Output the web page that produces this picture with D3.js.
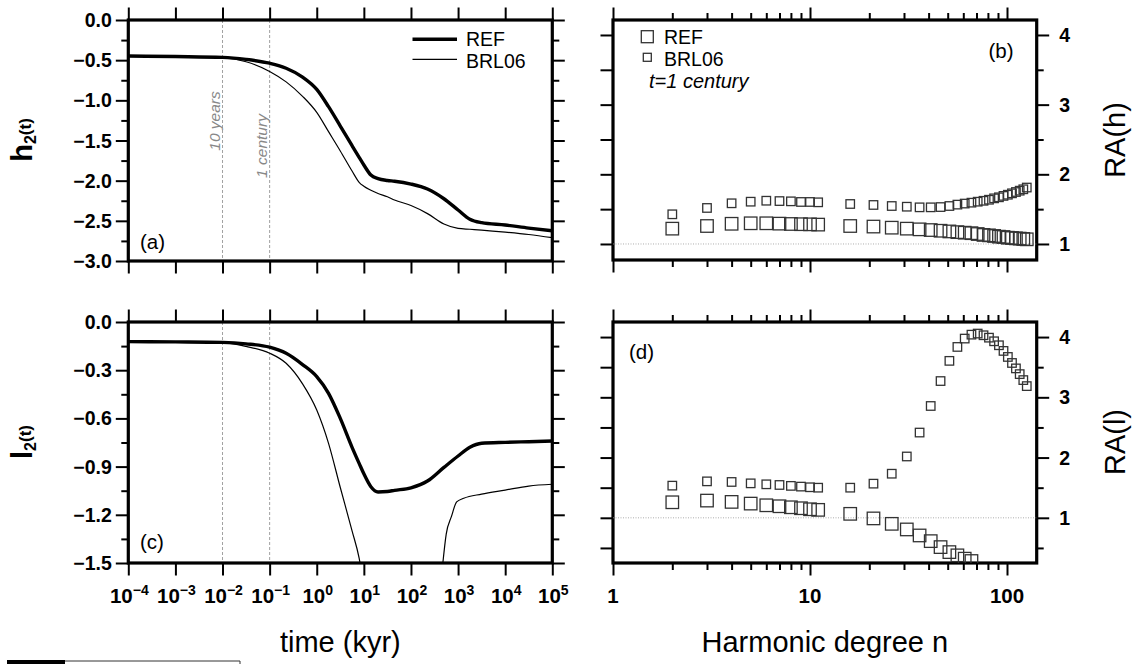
<!DOCTYPE html>
<html>
<head>
<meta charset="utf-8">
<script src="https://cdn.jsdelivr.net/npm/d3@7"></script>
<style>
  body { margin: 0; background: #fff; }
  svg { display: block; font-family: "Liberation Sans", Arial, Helvetica, sans-serif; }
</style>
</head>
<body>
<svg id="chart" width="1135" height="664"></svg>
<script>
// ---- data ----
// time axis (kyr) shared by the REF curves
const timeKyr = [0.0001, 0.001, 0.01, 0.0316, 0.1, 0.224, 0.5, 1, 1.78, 3.16, 5.62, 7.94, 10,
                 14.1, 20, 31.6, 44.7, 100, 224, 501, 1000, 1780, 3160, 10000, 31600, 100000];
const h2Ref = [-0.448, -0.455, -0.465, -0.49, -0.538, -0.60, -0.71, -0.863, -1.079, -1.32, -1.565, -1.71, -1.805,
               -1.93, -1.975, -1.998, -2.007, -2.042, -2.104, -2.225, -2.365, -2.48, -2.523, -2.552, -2.59, -2.623];
const h2Brl = [-0.448, -0.455, -0.47, -0.52, -0.64, -0.77, -0.95, -1.15, -1.39, -1.63, -1.88, -2.02, -2.07,
               -2.12, -2.16, -2.2, -2.24, -2.31, -2.41, -2.54, -2.595, -2.605, -2.615, -2.64, -2.67, -2.71];
const l2Ref = [-0.122, -0.124, -0.127, -0.136, -0.157, -0.195, -0.265, -0.34, -0.444, -0.60, -0.78, -0.88, -0.945,
               -1.025, -1.058, -1.055, -1.048, -1.032, -0.99, -0.905, -0.834, -0.78, -0.755, -0.749, -0.745, -0.741];
// BRL06 l2 leaves the frame (below -1.5) between ~8 kyr and ~475 kyr
const timeBrlL = [0.0001, 0.001, 0.01, 0.0316, 0.1, 0.224, 0.5, 1, 1.78, 3.16, 5.62, 7.94, 8.3,
                  60, 475, 560, 724, 933, 1320, 3160, 10000, 31600, 100000];
const l2Brl = [-0.122, -0.124, -0.128, -0.152, -0.194, -0.257, -0.385, -0.548, -0.755, -1.03, -1.30, -1.47, -1.5,
               null, -1.5, -1.32, -1.21, -1.12, -1.097, -1.071, -1.046, -1.021, -1.01];

// harmonic degrees, t = 1 century
const degrees = [2, 3, 4, 5, 6, 7, 8, 9, 10, 11, 16, 21, 26, 31, 36, 41, 46, 51, 56, 61, 66,
                 71, 76, 81, 86, 91, 96, 101, 106, 111, 116, 121, 126];
const raHRef = [1.22, 1.258, 1.29, 1.297, 1.297, 1.292, 1.287, 1.284, 1.282, 1.278, 1.258, 1.25, 1.234, 1.22, 1.21,
                1.2, 1.19, 1.18, 1.17, 1.162, 1.155, 1.143, 1.13, 1.124, 1.115, 1.105, 1.1, 1.09, 1.086, 1.081,
                1.077, 1.072, 1.067];
const raHBrl = [1.426, 1.517, 1.584, 1.607, 1.621, 1.616, 1.612, 1.603, 1.603, 1.598, 1.574, 1.56, 1.545, 1.535,
                1.526, 1.526, 1.53, 1.545, 1.565, 1.58, 1.593, 1.607, 1.62, 1.635, 1.655, 1.67, 1.69, 1.707,
                1.727, 1.746, 1.765, 1.785, 1.81];
// REF l ratios: only the points still inside the frame
const raLRef = [1.258, 1.286, 1.264, 1.236, 1.208, 1.192, 1.175, 1.159, 1.142, 1.132, 1.066, 0.99, 0.90,
                0.807, 0.707, 0.613, 0.514, 0.431, 0.377, 0.322, 0.283];
const raLBrl = [1.534, 1.605, 1.595, 1.572, 1.556, 1.545, 1.53, 1.518, 1.507, 1.5, 1.5, 1.567, 1.732, 2.018,
                2.415, 2.856, 3.27, 3.605, 3.836, 3.975, 4.04, 4.058, 4.03, 3.99, 3.93, 3.864, 3.77, 3.67,
                3.57, 3.48, 3.385, 3.286, 3.186];

const timeExponents = [-4, -3, -2, -1, 0, 1, 2, 3, 4, 5];
const degreeLabels = [1, 10, 100];

// ---- layout ----
const svg = d3.select("#chart");
const L = { x0: 128.3, x1: 552.3 };
const R = { x0: 613, x1: 1036.7 };
const TOP = { y0: 20, y1: 261 };
const BOT = { y0: 322, y1: 563 };
const bigTick = 12.5, smallTick = 7;

const xTime = d3.scaleLog().domain([1e-4, 1e5]).range([L.x0, L.x1]);
const xDeg = d3.scaleLog().domain([1, 141.5]).range([R.x0, R.x1]);
const yH = d3.scaleLinear().domain([-3, 0]).range([TOP.y1, TOP.y0]);
const yL = d3.scaleLinear().domain([-1.5, 0]).range([BOT.y1, BOT.y0]);
const yRAh = d3.scaleLinear().domain([0.77, 4.215]).range([260, TOP.y0]);
const yRAl = d3.scaleLinear().domain([0.25, 4.25]).range([BOT.y1, BOT.y0]);

const defs = svg.append("defs");
function clip(id, x0, x1, y0, y1) {
    defs.append("clipPath").attr("id", id)
        .append("rect").attr("x", x0).attr("y", y0).attr("width", x1 - x0).attr("height", y1 - y0);
    return `url(#${id})`;
}

function addAxis(axis, tx, ty) {
    const s = svg.append("g").attr("transform", `translate(${tx},${ty})`).call(axis);
    s.select(".domain").remove();
    s.selectAll(".tick text").remove();
    s.selectAll(".tick line").attr("stroke", "#000").attr("stroke-width", 2);
    return s;
}

const fmt1 = d3.format(".1f");
const range = (a, b, s) => d3.range(a, b + s / 2, s).map(v => +v.toFixed(3));

// ---- left panels (a) and (c) ----
function timePanel(y, y0, y1, major, minor, id) {
    const cp = clip(id, L.x0, L.x1, y0, y1);
    const g = svg.append("g").attr("clip-path", cp);

    // 10 years / 1 century guides
    [0.01, 0.1].forEach(t => {
        g.append("line")
            .attr("x1", xTime(t)).attr("x2", xTime(t))
            .attr("y1", y0).attr("y2", y1)
            .attr("stroke", "#888").attr("stroke-width", 0.8)
            .attr("stroke-dasharray", "3,2");
    });

    const decades = timeExponents.map(e => Math.pow(10, e));
    addAxis(d3.axisTop(xTime).tickValues(decades).tickSize(bigTick), 0, y0);
    addAxis(d3.axisBottom(xTime).tickValues(decades).tickSize(bigTick), 0, y1);
    addAxis(d3.axisLeft(y).tickValues(major).tickSize(bigTick), L.x0, 0);
    addAxis(d3.axisLeft(y).tickValues(minor).tickSize(smallTick), L.x0, 0);
    addAxis(d3.axisRight(y).tickValues(major).tickSize(bigTick), L.x1, 0);
    addAxis(d3.axisRight(y).tickValues(minor).tickSize(smallTick), L.x1, 0);

    svg.append("g").selectAll("text").data(major).join("text")
        .attr("x", L.x0 - bigTick - 4)
        .attr("y", d => y(d))
        .attr("dy", "0.36em")
        .attr("text-anchor", "end")
        .attr("font-size", 19.5).attr("font-weight", "bold")
        .text(d => fmt1(d));
    return g;
}

function drawCurve(g, times, values, y, width) {
    const pts = times.map((t, i) => ({ t, v: values[i] }));
    g.append("path")
        .datum(pts)
        .attr("fill", "none")
        .attr("stroke", "#000")
        .attr("stroke-width", width)
        .attr("stroke-linejoin", "round")
        .attr("d", d3.line()
            .defined(d => d.v != null)
            .x(d => xTime(d.t))
            .y(d => y(d.v))
            .curve(d3.curveMonotoneX));
}

const gA = timePanel(yH, TOP.y0, TOP.y1, range(-3, 0, 0.5), range(-2.75, -0.25, 0.5), "clipA");
drawCurve(gA, timeKyr, h2Brl, yH, 1.2);
drawCurve(gA, timeKyr, h2Ref, yH, 3.4);

const gC = timePanel(yL, BOT.y0, BOT.y1, range(-1.5, 0, 0.3), range(-1.35, -0.15, 0.3), "clipC");
drawCurve(gC, timeBrlL, l2Brl, yL, 1.2);
drawCurve(gC, timeKyr, l2Ref, yL, 3.4);

// guide labels in (a)
[[0.01, "10 years", 121], [0.1, "1 century", 146]].forEach(([t, label, cy]) => {
    svg.append("text")
        .attr("transform", `translate(${xTime(t) - 2.5},${cy}) rotate(-90)`)
        .attr("text-anchor", "middle")
        .attr("font-size", 15.5).attr("font-style", "italic")
        .attr("fill", "#888")
        .text(label);
});

// legend (a)
[["REF", 3.6, 39.3, 46], ["BRL06", 1.3, 59.3, 67.5]].forEach(([name, w, ly, ty]) => {
    svg.append("line").attr("x1", 412.5).attr("x2", 457).attr("y1", ly).attr("y2", ly)
        .attr("stroke", "#000").attr("stroke-width", w);
    svg.append("text").attr("x", 466).attr("y", ty).attr("font-size", 19.5).text(name);
});

svg.append("text").attr("x", 140).attr("y", 249).attr("font-size", 20.5).text("(a)");
svg.append("text").attr("x", 140).attr("y", 549).attr("font-size", 20.5).text("(c)");

// x tick labels 10^n
const xl = svg.append("g").selectAll("text").data(timeExponents).join("text")
    .attr("x", d => xTime(Math.pow(10, d)) + 1)
    .attr("y", 603.3)
    .attr("text-anchor", "middle")
    .attr("font-size", 20.5).attr("font-weight", "bold");
xl.append("tspan").text("10");
xl.append("tspan").attr("font-size", 14).attr("dy", -8)
    .text(d => d < 0 ? "\u2212" + (-d) : String(d));

// frames
[[L, TOP], [L, BOT], [R, TOP], [R, BOT]].forEach(([px, py], i) => {
    const y1 = (i === 2) ? 260 : py.y1;
    svg.append("rect")
        .attr("x", px.x0).attr("y", py.y0)
        .attr("width", px.x1 - px.x0).attr("height", y1 - py.y0)
        .attr("fill", "none").attr("stroke", "#000").attr("stroke-width", 3.2);
});

// ---- right panels (b) and (d) ----
const degMajor = [1, 10, 100];
const degMinor = [2, 3, 4, 5, 6, 7, 8, 9, 20, 30, 40, 50, 60, 70, 80, 90];

function degreePanel(y, y0, y1, allTicks, major, minor, id) {
    const cp = clip(id, R.x0, R.x1, y0, y1);
    const g = svg.append("g").attr("clip-path", cp);
    g.append("line")
        .attr("x1", R.x0).attr("x2", R.x1)
        .attr("y1", y(1)).attr("y2", y(1))
        .attr("stroke", "#999").attr("stroke-width", 0.8)
        .attr("stroke-dasharray", "1,1.5");

    addAxis(d3.axisTop(xDeg).tickValues(degMajor).tickSize(bigTick), 0, y0);
    addAxis(d3.axisTop(xDeg).tickValues(degMinor).tickSize(smallTick), 0, y0);
    addAxis(d3.axisBottom(xDeg).tickValues(degMajor).tickSize(bigTick), 0, y1);
    addAxis(d3.axisBottom(xDeg).tickValues(degMinor).tickSize(smallTick), 0, y1);
    addAxis(d3.axisLeft(y).tickValues(allTicks).tickSize(bigTick), R.x0, 0);
    addAxis(d3.axisRight(y).tickValues(major).tickSize(bigTick), R.x1, 0);
    addAxis(d3.axisRight(y).tickValues(minor).tickSize(smallTick), R.x1, 0);

    svg.append("g").selectAll("text").data(major).join("text")
        .attr("x", R.x1 + bigTick + 10)
        .attr("y", d => y(d))
        .attr("dy", "0.36em")
        .attr("font-size", 19.5).attr("font-weight", "bold")
        .text(d => d);
    return g;
}

function drawSquares(g, values, y, size) {
    g.append("g").selectAll("rect").data(values).join("rect")
        .attr("x", (d, i) => xDeg(degrees[i]) - size / 2)
        .attr("y", d => y(d) - size / 2)
        .attr("width", size).attr("height", size)
        .attr("fill", "none")
        .attr("stroke", "#333").attr("stroke-width", 1.3);
}

const gB = degreePanel(yRAh, TOP.y0, 260, range(1, 4, 0.5), [1, 2, 3, 4], [1.5, 2.5, 3.5], "clipB");
drawSquares(gB, raHRef, yRAh, 12.5);
drawSquares(gB, raHBrl, yRAh, 8.5);

const gD = degreePanel(yRAl, BOT.y0, BOT.y1, range(0.5, 4, 0.5), [1, 2, 3, 4], [0.5, 1.5, 2.5, 3.5], "clipD");
drawSquares(gD, raLRef, yRAl, 12.5);
drawSquares(gD, raLBrl, yRAl, 8.5);

// legend (b)
[["REF", 12, 36.7, 43.5], ["BRL06", 8, 57.3, 65.5]].forEach(([name, s, cy, ty]) => {
    svg.append("rect").attr("x", 647.3 - s / 2).attr("y", cy - s / 2)
        .attr("width", s).attr("height", s)
        .attr("fill", "none").attr("stroke", "#333").attr("stroke-width", 1.3);
    svg.append("text").attr("x", 664).attr("y", ty).attr("font-size", 19.5).text(name);
});
svg.append("text").attr("x", 649).attr("y", 88).attr("font-size", 20)
    .attr("font-style", "italic").text("t=1 century");
svg.append("text").attr("x", 1013.5).attr("y", 58).attr("font-size", 20.5)
    .attr("text-anchor", "end").text("(b)");
svg.append("text").attr("x", 629).attr("y", 359).attr("font-size", 20.5).text("(d)");

svg.append("g").selectAll("text").data(degreeLabels).join("text")
    .attr("x", d => xDeg(d))
    .attr("y", 603.3)
    .attr("text-anchor", "middle")
    .attr("font-size", 20.5).attr("font-weight", "bold")
    .text(d => d);

// ---- axis titles ----
svg.append("text").attr("x", (L.x0 + L.x1) / 2).attr("y", 652)
    .attr("text-anchor", "middle").attr("font-size", 29).text("time (kyr)");
svg.append("text").attr("x", (R.x0 + R.x1) / 2).attr("y", 652)
    .attr("text-anchor", "middle").attr("font-size", 29).text("Harmonic degree n");

function yTitle(letter, cy) {
    const t = svg.append("text")
        .attr("transform", `translate(32,${cy}) rotate(-90)`)
        .attr("text-anchor", "middle")
        .attr("font-size", 29).attr("font-weight", "bold");
    t.append("tspan").text(letter);
    t.append("tspan").attr("font-size", 16).attr("dy", 4).text("2");
    t.append("tspan").attr("font-size", 17).attr("dy", -5).text("(t)");
}
yTitle("h", 140);
yTitle("l", 442);

[["RA(h)", 140], ["RA(l)", 442]].forEach(([label, cy]) => {
    svg.append("text")
        .attr("transform", `translate(1125,${cy}) rotate(-90)`)
        .attr("text-anchor", "middle")
        .attr("font-size", 29).text(label);
});

// scale bar cut off at the bottom-left corner
svg.append("rect").attr("x", 7).attr("y", 660).attr("width", 58).attr("height", 4).attr("fill", "#000");
svg.append("line").attr("x1", 65).attr("x2", 240).attr("y1", 661).attr("y2", 661)
    .attr("stroke", "#333").attr("stroke-width", 1);
svg.append("line").attr("x1", 240).attr("x2", 240).attr("y1", 661).attr("y2", 664)
    .attr("stroke", "#333").attr("stroke-width", 1);
</script>
</body>
</html>
